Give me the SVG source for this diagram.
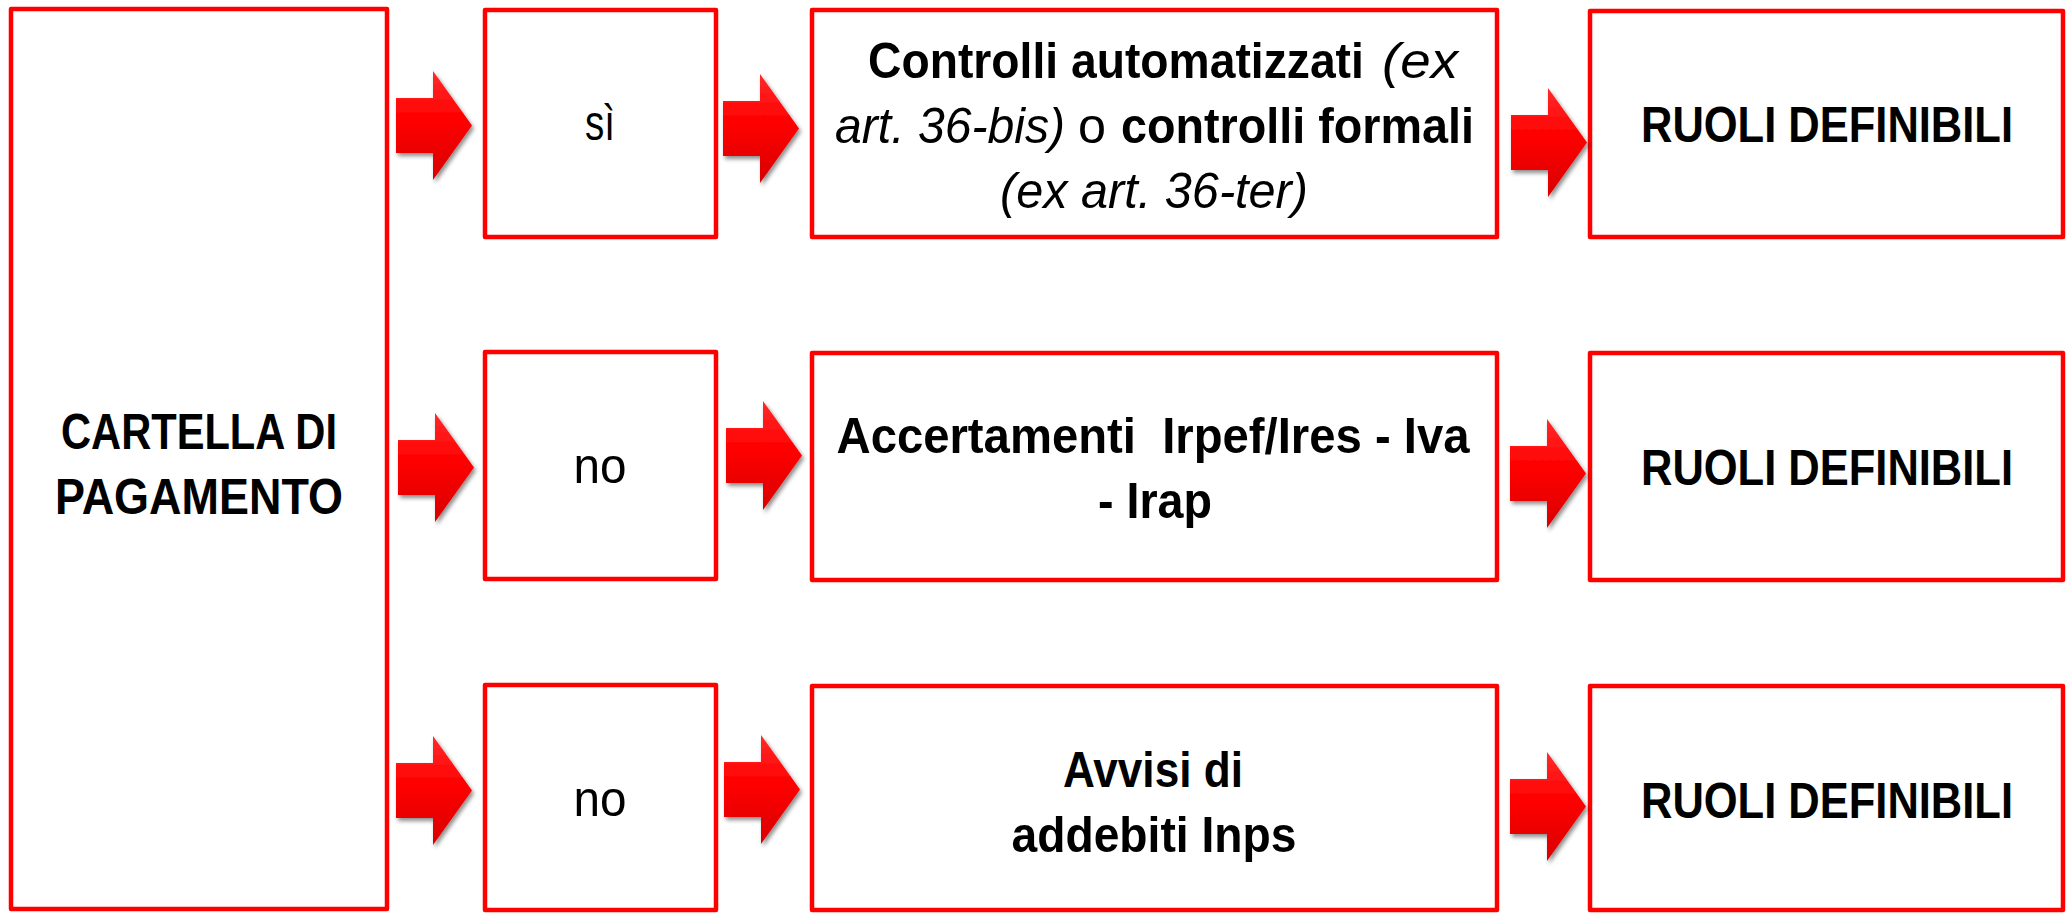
<svg xmlns="http://www.w3.org/2000/svg" xmlns:xlink="http://www.w3.org/1999/xlink" width="2071" height="913" viewBox="0 0 2071 913">
<style>
.box{fill:#ffffff;stroke:#ff0000;stroke-width:4.5;stroke-linejoin:round}
.t{font-family:"Liberation Sans",Arial,sans-serif;font-size:50px;fill:#000000;text-anchor:middle}
.s{text-anchor:start}
.b{font-weight:bold}
.i{font-style:italic}
.arrow{fill:url(#ag);filter:url(#sh)}
</style>
<defs>
<linearGradient id="ag" x1="0" y1="0" x2="0" y2="1">
<stop offset="0" stop-color="#ff2a2a"/>
<stop offset="0.45" stop-color="#ff0000"/>
<stop offset="1" stop-color="#d80000"/>
</linearGradient>
<filter id="sh" x="-20%" y="-20%" width="150%" height="150%">
<feDropShadow dx="2" dy="3" stdDeviation="2" flood-color="#000000" flood-opacity="0.45"/>
</filter>
<path id="arr" d="M0,27 H37 V0 L76,54.5 L37,109 V82 H0 Z"/>
</defs>
<rect width="2071" height="913" fill="#ffffff"/>

<g id="cartella">
<rect class="box" x="11" y="9" width="376" height="900"/>
<text class="t b" x="199" y="449" textLength="276" lengthAdjust="spacingAndGlyphs">CARTELLA DI</text>
<text class="t b" x="199" y="514" textLength="288" lengthAdjust="spacingAndGlyphs">PAGAMENTO</text>
</g>

<g id="si">
<rect class="box" x="485" y="10" width="231" height="227"/>
<text class="t" x="600" y="140" textLength="30" lengthAdjust="spacingAndGlyphs">sì</text>
</g>
<g id="no1">
<rect class="box" x="485" y="352" width="231" height="227"/>
<text class="t" x="600" y="483" textLength="53" lengthAdjust="spacingAndGlyphs">no</text>
</g>
<g id="no2">
<rect class="box" x="485" y="685" width="231" height="225"/>
<text class="t" x="600" y="816" textLength="53" lengthAdjust="spacingAndGlyphs">no</text>
</g>

<g id="controlli">
<rect class="box" x="812" y="10" width="685" height="227"/>
<text class="t s b" transform="translate(868,78) scale(0.925,1)" x="0" y="0">Controlli automatizzati</text>
<text class="t s i" x="1382" y="78" textLength="76" lengthAdjust="spacingAndGlyphs">(ex</text>
<text class="t s i" x="835" y="143" textLength="230" lengthAdjust="spacingAndGlyphs">art. 36-bis)</text>
<text class="t s" x="1078" y="143" textLength="28" lengthAdjust="spacingAndGlyphs">o</text>
<text class="t s b" x="1121" y="143" textLength="353" lengthAdjust="spacingAndGlyphs">controlli formali</text>
<text class="t i" x="1154" y="208" textLength="308" lengthAdjust="spacingAndGlyphs">(ex art. 36-ter)</text>
</g>
<g id="accertamenti">
<rect class="box" x="812" y="353" width="685" height="227"/>
<text class="t b" x="1153" y="453" textLength="633" lengthAdjust="spacingAndGlyphs" xml:space="preserve">Accertamenti  Irpef/Ires - Iva</text>
<text class="t b" x="1155" y="518" textLength="114" lengthAdjust="spacingAndGlyphs">- Irap</text>
</g>
<g id="avvisi">
<rect class="box" x="812" y="686" width="685" height="224"/>
<text class="t b" x="1153" y="787" textLength="180" lengthAdjust="spacingAndGlyphs">Avvisi di</text>
<text class="t b" x="1154" y="852" textLength="285" lengthAdjust="spacingAndGlyphs">addebiti Inps</text>
</g>

<g id="ruoli1">
<rect class="box" x="1590" y="11" width="473" height="226"/>
<text class="t b" x="1827" y="142" textLength="372" lengthAdjust="spacingAndGlyphs">RUOLI DEFINIBILI</text>
</g>
<g id="ruoli2">
<rect class="box" x="1590" y="353" width="473" height="227"/>
<text class="t b" x="1827" y="485" textLength="372" lengthAdjust="spacingAndGlyphs">RUOLI DEFINIBILI</text>
</g>
<g id="ruoli3">
<rect class="box" x="1590" y="686" width="473" height="224"/>
<text class="t b" x="1827" y="818" textLength="372" lengthAdjust="spacingAndGlyphs">RUOLI DEFINIBILI</text>
</g>

<g id="connectors">
<use class="arrow" xlink:href="#arr" x="396" y="71"/>
<use class="arrow" xlink:href="#arr" x="723" y="74"/>
<use class="arrow" xlink:href="#arr" x="1511" y="88"/>
<use class="arrow" xlink:href="#arr" x="398" y="413"/>
<use class="arrow" xlink:href="#arr" x="726" y="401"/>
<use class="arrow" xlink:href="#arr" x="1510" y="419"/>
<use class="arrow" xlink:href="#arr" x="396" y="736"/>
<use class="arrow" xlink:href="#arr" x="724" y="735"/>
<use class="arrow" xlink:href="#arr" x="1510" y="752"/>
</g>
</svg>
